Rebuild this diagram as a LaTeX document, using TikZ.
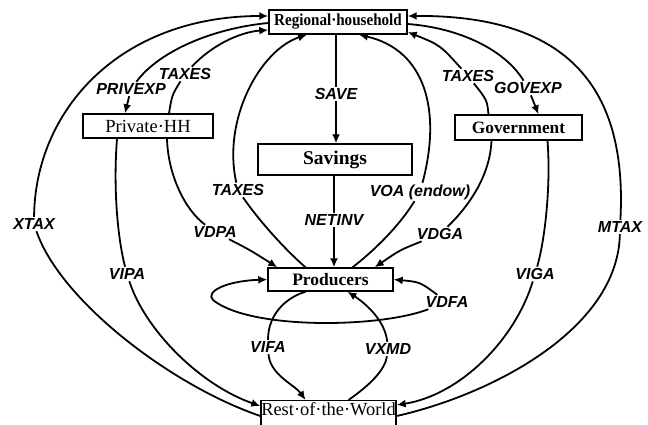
\documentclass[tikz,border=0pt]{standalone}
\usepackage{fontspec}
\newfontfamily\boxfont{Liberation Serif}
\newfontfamily\boxfontn{Liberation Serif}[FakeStretch=0.9]
\newfontfamily\lblfont{Liberation Sans}
\usetikzlibrary{arrows.meta,calc}
\begin{document}
\begin{tikzpicture}[x=1pt,y=-1pt,
  box/.style={draw,line width=1.4pt,inner sep=0pt},
  lbl/.style={inner sep=1.5pt,font=\lblfont\bfseries\itshape\fontsize{16}{16}\selectfont},
  conn/.style={line width=1.8pt},
  arr/.style={conn,-{Latex[length=9pt,width=8pt]}}]
\clip (0,0) rectangle (648,425);
% boxes
\node[box,minimum width=138pt,minimum height=24pt,font=\boxfontn\bfseries\fontsize{16.8}{17}\selectfont] (rh) at (338,22) {Regional·household};
\node[box,minimum width=130pt,minimum height=24pt,font=\boxfont\fontsize{18.5}{18.5}\selectfont] (phh) at (148,126) {Private·HH};
\node[box,minimum width=127pt,minimum height=25pt,font=\boxfont\bfseries\fontsize{17.3}{17.3}\selectfont] (gov) at (518.5,127.5) {Government};
\node[box,minimum width=154pt,minimum height=31pt,font=\boxfont\bfseries\fontsize{19.5}{19.5}\selectfont] (sav) at (335,159.5) {Savings};
\node[box,minimum width=125pt,minimum height=23pt,font=\boxfont\bfseries\fontsize{17.5}{17.5}\selectfont] (prod) at (330.5,279.5) {Producers};
\node[box,minimum width=135pt,text height=12.5pt,text depth=30pt,inner ysep=2pt,anchor=north,font=\boxfont\fontsize{18.4}{18.4}\selectfont] (row) at (328.5,400) {Rest·of·the·World};
% labels
\node[lbl] (lsave) at (336,94) {SAVE};
\node[lbl] (lnet) at (334,220) {NETINV};
\node[lbl] (lpriv) at (131,89) {PRIVEXP};
\node[lbl] (ltax1) at (185,74) {TAXES};
\node[lbl] (ltax2) at (238,190) {TAXES};
\node[lbl] (lvdpa) at (215,232) {VDPA};
\node[lbl] (lvipa) at (127,274) {VIPA};
\node[lbl] (lxtax) at (34,224) {XTAX};
\node[lbl] (ltax3) at (468,76) {TAXES};
\node[lbl] (lgov) at (528,88) {GOVEXP};
\node[lbl] (lvoa) at (420,192) {VOA (endow)};
\node[lbl] (lvdga) at (440,234) {VDGA};
\node[lbl] (lviga) at (535,274) {VIGA};
\node[lbl] (lmtax) at (620,227) {MTAX};
\node[lbl] (lvdfa) at (447,302) {VDFA};
\node[lbl] (lvifa) at (268,347) {VIFA};
\node[lbl] (lvxmd) at (388,349) {VXMD};
% SAVE / NETINV
\draw[conn] (lsave |- rh.south) -- (lsave);
\draw[arr] (lsave) -- (lsave |- sav.north);
\draw[conn] (lnet |- sav.south) -- (lnet);
\draw[arr] (lnet) -- (lnet |- prod.north);
% XTAX
\draw[conn] ($(row.north west)+(0,16)$) .. controls (170,385) and (60,300) .. (lxtax);
\draw[arr] (lxtax) .. controls (35,110) and (120,16) .. ($(rh.west)+(0,-6)$);
% PRIVEXP
\draw[conn] ($(rh.west)+(0,1)$) .. controls (215,28) and (160,50) .. (lpriv);
\draw[arr] (lpriv) -- ($(phh.north)+(-23,0)$);
% TAXES (private)
\draw[conn] ($(phh.north)+(21,0)$) .. controls (172,95) .. (ltax1);
\draw[arr] (ltax1) .. controls (212,45) and (240,32) .. ($(rh.west)+(0,8)$);
% TAXES (producers)
\draw[conn] ($(prod.north)+(-25,0)$) .. controls (280,245) and (255,215) .. (ltax2);
\draw[arr] (ltax2) .. controls (222,120) and (260,50) .. ($(rh.south)+(-31,0)$);
% VDPA
\draw[conn] ($(phh.south)+(19,0)$) .. controls (168,175) and (185,210) .. (lvdpa);
\draw[arr] (lvdpa) .. controls (250,250) .. ($(prod.north west)+(10,0)$);
% VIPA
\draw[conn] ($(phh.south)+(-31,0)$) .. controls (113,190) and (118,240) .. (lvipa);
\draw[arr] (lvipa) .. controls (145,330) and (200,385) .. ($(row.north west)+(0,6)$);
% VOA
\draw[conn] ($(prod.north)+(22,0)$) .. controls (375,250) and (400,225) .. (lvoa);
\draw[arr] (lvoa) .. controls (442,110) and (425,50) .. ($(rh.south)+(21,0)$);
% TAXES (government)
\draw[conn] ($(gov.north)+(-30,0)$) .. controls (487,100) .. (ltax3);
\draw[arr] (ltax3) .. controls (440,45) .. ($(rh.east)+(0,10)$);
% GOVEXP
\draw[conn] ($(rh.east)+(0,2)$) .. controls (460,28) and (505,50) .. (lgov);
\draw[arr] (lgov) -- ($(gov.north)+(20,0)$);
% MTAX
\draw[conn] ($(row.north east)+(0,16)$) .. controls (490,395) and (618,330) .. (lmtax);
\draw[arr] (lmtax) .. controls (628,80) and (560,15) .. ($(rh.east)+(0,-6)$);
% VDGA
\draw[conn] ($(gov.south)+(-27,0)$) .. controls (490,175) and (470,205) .. (lvdga);
\draw[arr] (lvdga) .. controls (400,250) .. ($(prod.north east)+(-19,0)$);
% VIGA
\draw[conn] ($(gov.south)+(29,0)$) .. controls (551,185) and (545,240) .. (lviga);
\draw[arr] (lviga) .. controls (515,340) and (460,395) .. ($(row.north east)+(0,5)$);
% VDFA
\draw[arr] (lvdfa) .. controls (420,282) .. (prod.east);
\draw[arr] (lvdfa) .. controls (380,328) and (250,330) .. (213,300) .. controls (205,292) and (225,281) .. (prod.west);
% VIFA
\draw[conn] ($(prod.south)+(-25,0)$) .. controls (285,298) and (268,315) .. (lvifa);
\draw[arr] (lvifa) .. controls (270,375) and (295,385) .. ($(row.north)+(-23,0)$);
% VXMD
\draw[conn] ($(row.north)+(20,0)$) .. controls (370,385) and (385,370) .. (lvxmd);
\draw[arr] (lvxmd) .. controls (385,320) and (365,303) .. ($(prod.south)+(17,0)$);
\end{tikzpicture}
\end{document}
